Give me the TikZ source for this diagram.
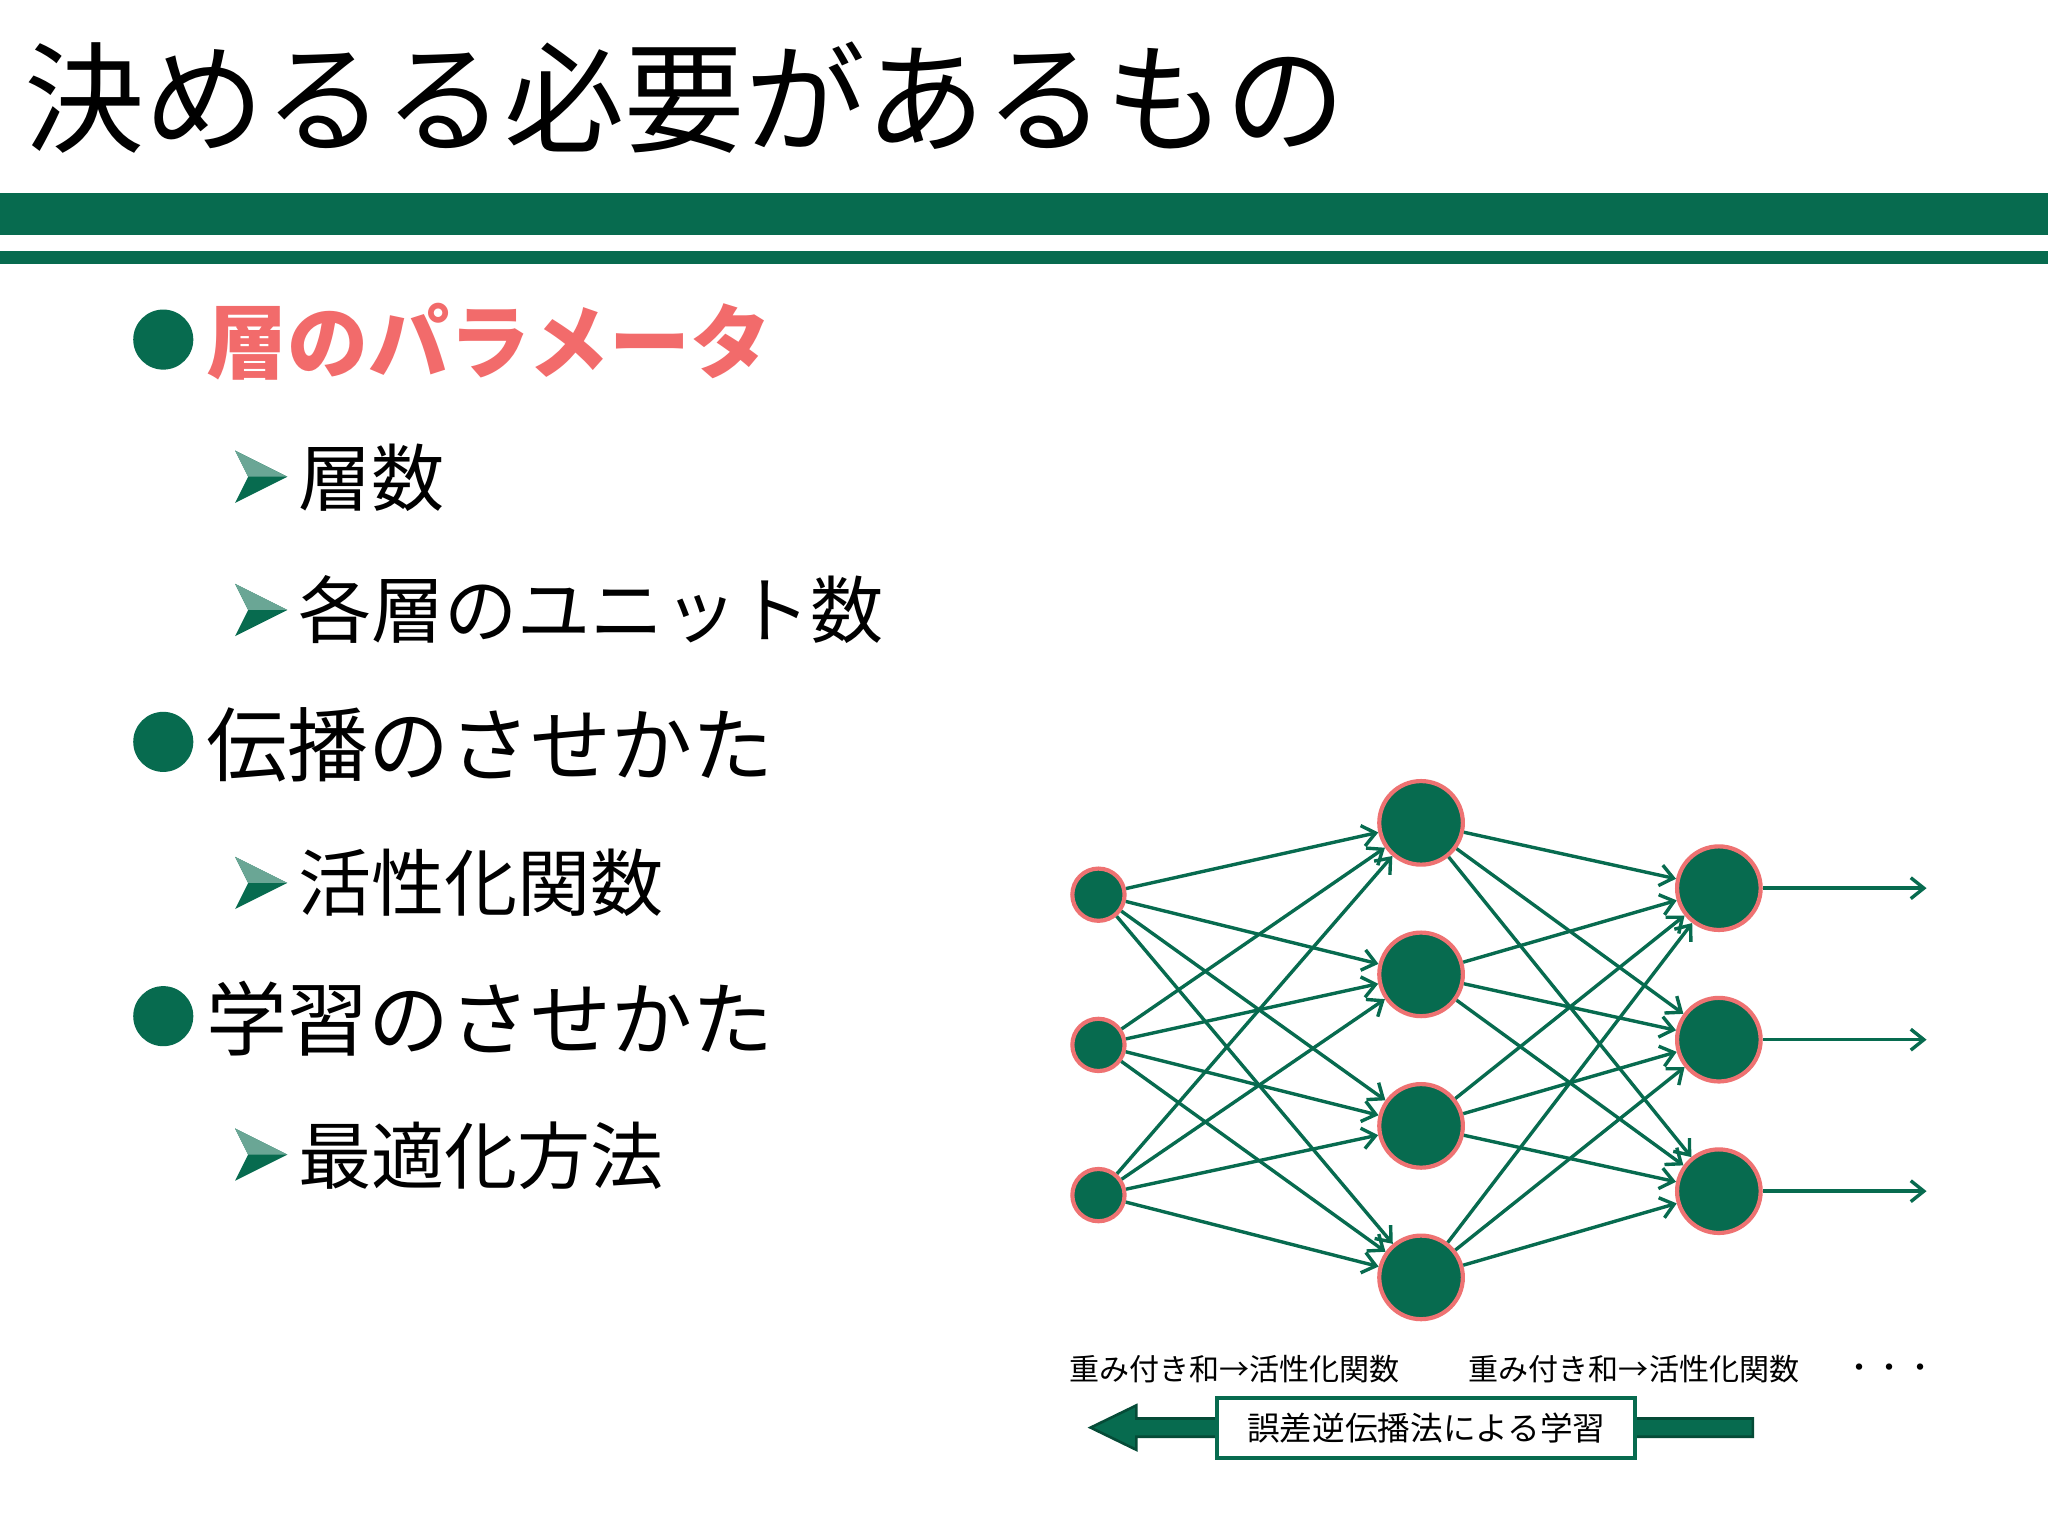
\documentclass[tikz,border=0pt]{standalone}
\usepackage{fontspec}
\setmainfont{Noto Sans CJK JP}
\usetikzlibrary{arrows.meta}
\definecolor{dg}{HTML}{076B4F}
\definecolor{pk}{HTML}{F26B6B}
\definecolor{rim}{HTML}{EE7272}
\tikzset{
  inp/.style={circle,fill=dg,draw=rim,line width=1.6pt,minimum size=20pt,inner sep=0},
  big/.style={circle,fill=dg,draw=rim,line width=1.6pt,minimum size=32pt,inner sep=0},
  con/.style={draw=dg,line width=1.3pt,-{Straight Barb[length=5pt,width=8pt]}},
  bul/.style={circle,fill=dg,inner sep=0,minimum size=23pt},
  lvl1/.style={anchor=west,font=\fontsize{31}{31}\selectfont,inner sep=0},
  lvl2/.style={anchor=west,font=\fontsize{28}{28}\selectfont,inner sep=0},
  small/.style={font=\fontsize{11.5}{12}\selectfont,inner sep=0}
}
\newcommand{\sarrow}[2]{%
 \fill[dg] (#1-20,#2-20) -- (#1+20,#2) -- (#1-20,#2+20) -- (#1-10,#2) -- cycle;
 \fill[dg!60!white] (#1-20,#2-20) -- (#1+20,#2) -- (#1-10,#2) -- cycle;}
\begin{document}
\begin{tikzpicture}[x=0.5pt,y=-0.5pt]
\useasboundingbox (0,0) rectangle (1568,1176);
\fill[white] (0,0) rectangle (1568,1176);
\node[anchor=west,inner sep=0,font=\fontsize{46}{46}\selectfont] (title) at (18,75) {決めるる必要があるもの};
\fill[dg] (0,148) rectangle (1568,180);
\fill[dg] (0,192) rectangle (1568,202);
% bullets
\node[bul] (b1) at (125,260) {};
\node[lvl1,text=pk,font=\fontsize{31}{31}\selectfont\bfseries] (t1) at (158,262) {層のパラメータ};
\sarrow{200}{365}\node[lvl2] (t11) at (228,366) {層数};
\sarrow{200}{467}\node[lvl2] (t12) at (228,467) {各層のユニット数};
\node[bul] (b2) at (125,568) {};
\node[lvl1] (t2) at (158,570) {伝播のさせかた};
\sarrow{200}{676}\node[lvl2] (t21) at (228,676) {活性化関数};
\node[bul] (b3) at (125,778) {};
\node[lvl1] (t3) at (158,780) {学習のさせかた};
\sarrow{200}{884}\node[lvl2] (t31) at (228,885) {最適化方法};
% network
\foreach \i/\y in {1/685,2/800,3/915} \node[inp] (i\i) at (841,\y) {};
\foreach \i/\y in {1/630,2/746,3/862,4/978} \node[big] (h\i) at (1088,\y) {};
\foreach \i/\y in {1/680,2/796,3/912} \node[big] (o\i) at (1316,\y) {};
\foreach \a in {1,2,3} \foreach \b in {1,2,3,4} \draw[con] (i\a) -- (h\b);
\foreach \a in {1,2,3,4} \foreach \b in {1,2,3} \draw[con] (h\a) -- (o\b);
\foreach \i/\y in {1/680,2/796,3/912} {\coordinate (e\i) at (1475,\y); \draw[con] (o\i) -- (e\i);}
\node[small] (l1) at (945,1048) {重み付き和→活性化関数};
\node[small] (l2) at (1251,1048) {重み付き和→活性化関数};
\node[small] (l3) at (1447,1050) {・・・};
% backprop arrow
\fill[dg,draw=dg!70!black,line width=1pt] (1342,1086) -- (870,1086) -- (870,1076) -- (835,1093) -- (870,1110) -- (870,1100) -- (1342,1100) -- cycle;
\node[draw=dg,fill=white,line width=1.5pt,minimum width=160pt,minimum height=23pt,inner sep=0,font=\fontsize{12.5}{13}\selectfont] (bp) at (1092,1093) {誤差逆伝播法による学習};
\end{tikzpicture}
\end{document}
